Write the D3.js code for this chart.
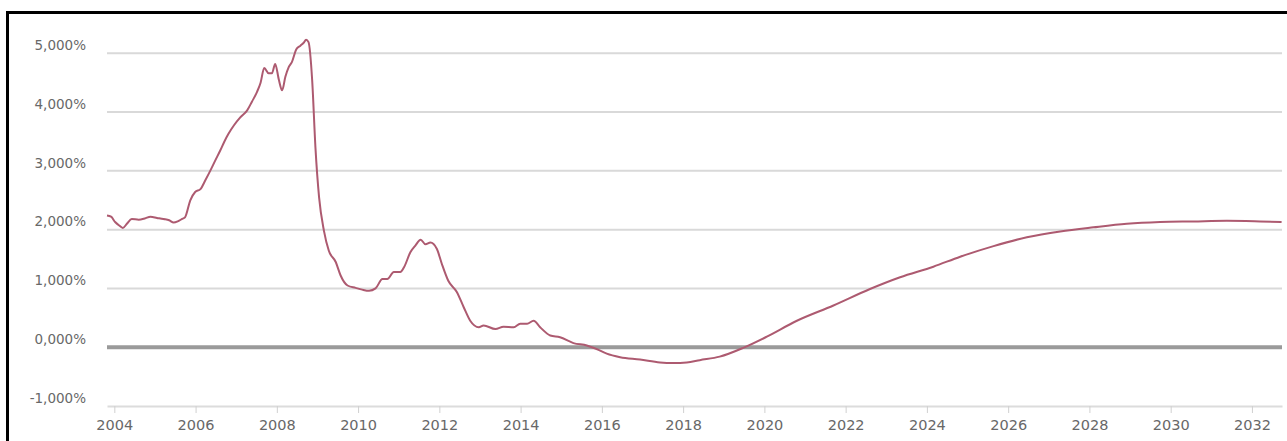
<!DOCTYPE html>
<html>
<head>
  <meta charset="utf-8">
  <title>Rate chart</title>
  <style type="text/css">
    body {
      margin: 0;
      background-color: #fff;
    }
    svg {
      display: block;
    }
    .axis text {
      font-family: "DejaVu Sans", sans-serif;
      font-size: 13.5px;
      fill: #686868;
    }
    .axis.x text {
      font-size: 14.5px;
    }
  </style>
  <script src="https://d3js.org/d3.v7.min.js"></script>
</head>
<body>
<script>
// values (decimal years, rate in %)
var years = [
  2003.82, 2003.92, 2004.02, 2004.12, 2004.21, 2004.31, 2004.43, 2004.6, 2004.75, 2004.89,
  2005.05, 2005.21, 2005.35, 2005.46, 2005.56, 2005.66, 2005.74, 2005.87, 2005.99, 2006.12,
  2006.24, 2006.36, 2006.48, 2006.61, 2006.71, 2006.81, 2006.95, 2007.1, 2007.27, 2007.39,
  2007.51, 2007.6, 2007.69, 2007.8, 2007.88, 2007.96, 2008.05, 2008.13, 2008.21, 2008.29,
  2008.37, 2008.48, 2008.58, 2008.66, 2008.72, 2008.78, 2008.87, 2008.95, 2009.04, 2009.16,
  2009.28, 2009.45, 2009.57, 2009.74, 2009.94, 2010.1, 2010.27, 2010.43, 2010.6, 2010.72,
  2010.88, 2011.04, 2011.13, 2011.29, 2011.41, 2011.54, 2011.66, 2011.78, 2011.94, 2012.06,
  2012.22, 2012.43, 2012.6, 2012.76, 2012.97, 2013.09, 2013.38, 2013.58, 2013.83, 2013.99,
  2014.16, 2014.32, 2014.48, 2014.73, 2014.97, 2015.3, 2015.63, 2015.87, 2016.12, 2016.45,
  2016.94, 2017.43, 2017.76, 2018.09, 2018.41, 2018.9, 2019.48, 2020.06, 2020.8, 2021.7,
  2022.6, 2023.34, 2024.16, 2024.82, 2025.64, 2026.46, 2027.28, 2028.1, 2028.92, 2029.74,
  2030.56, 2031.38, 2032.2, 2032.73
];
var rate = [
  2.24, 2.22, 2.13, 2.07, 2.03, 2.10, 2.18, 2.17, 2.19, 2.22,
  2.20, 2.18, 2.16, 2.12, 2.14, 2.18, 2.21, 2.50, 2.64, 2.69,
  2.84, 3.00, 3.17, 3.35, 3.50, 3.63, 3.78, 3.91, 4.03, 4.18,
  4.34, 4.50, 4.75, 4.66, 4.66, 4.82, 4.55, 4.37, 4.60, 4.76,
  4.85, 5.07, 5.13, 5.18, 5.23, 5.19, 4.54, 3.40, 2.55, 1.98,
  1.64, 1.45, 1.22, 1.05, 1.01, 0.98, 0.96, 1.00, 1.16, 1.16,
  1.28, 1.28, 1.36, 1.62, 1.73, 1.83, 1.75, 1.78, 1.67, 1.42,
  1.13, 0.94, 0.68, 0.45, 0.34, 0.37, 0.31, 0.35, 0.34, 0.40,
  0.40, 0.45, 0.34, 0.20, 0.17, 0.07, 0.03, -0.03, -0.11, -0.17,
  -0.21, -0.26, -0.27, -0.26, -0.22, -0.16, -0.01, 0.18, 0.45, 0.71,
  0.99, 1.19, 1.37, 1.54, 1.72, 1.87, 1.97, 2.04, 2.10, 2.13,
  2.14, 2.15, 2.14, 2.13
];
var yTicks = [-1, 0, 1, 2, 3, 4, 5];
var xTicks = [2004, 2006, 2008, 2010, 2012, 2014, 2016, 2018, 2020, 2022, 2024, 2026, 2028, 2030, 2032];

var data = years.map(function(y, i) { return {year: y, value: rate[i]}; });

var width = 1287, height = 441;

var svg = d3.select("body").append("svg")
  .attr("width", width)
  .attr("height", height);

// comma as decimal mark, plain hyphen for minus
var locale = d3.formatLocale({decimal: ",", thousands: ".", grouping: [3], currency: ["", "€"], minus: "-"});
var fmt = locale.format(".3f");

var xscale = d3.scaleLinear()
  .domain([2003.82, 2032.74])
  .range([107, 1282]);

var yscale = d3.scaleLinear()
  .domain([-1, 5])
  .range([406, 53.3]);

// horizontal grid
svg.append("g")
  .selectAll("line")
  .data(yTicks.filter(function(d) { return d > -1; }))
  .enter().append("line")
    .attr("x1", xscale.range()[0])
    .attr("x2", xscale.range()[1])
    .attr("y1", function(d) { return yscale(d); })
    .attr("y2", function(d) { return yscale(d); })
    .style("stroke", function(d) { return d === 0 ? "#9a9a9a" : "#d9d9d9"; })
    .style("stroke-width", function(d) { return d === 0 ? 4 : 2; });

// y labels
var yaxis = d3.axisLeft(yscale)
  .tickValues(yTicks)
  .tickSize(0)
  .tickPadding(0)
  .tickFormat(function(d) { return fmt(d) + "%"; });

var gy = svg.append("g")
  .attr("class", "axis y")
  .attr("transform", "translate(86,-8)")
  .call(yaxis);
gy.select(".domain").remove();

// x axis
var xaxis = d3.axisBottom(xscale)
  .tickValues(xTicks)
  .tickSize(7)
  .tickSizeOuter(0)
  .tickPadding(7)
  .tickFormat(d3.format("d"));

var gx = svg.append("g")
  .attr("class", "axis x")
  .attr("transform", "translate(0," + yscale(-1) + ")")
  .call(xaxis);
gx.select(".domain").style("stroke", "#dcdcdc").style("stroke-width", 2);
gx.selectAll(".tick line").style("stroke", "#d0d0d0");

// series
var line = d3.line()
  .x(function(d) { return xscale(d.year); })
  .y(function(d) { return yscale(d.value); })
  .curve(d3.curveMonotoneX);

svg.append("path")
  .datum(data)
  .attr("d", line)
  .style("fill", "none")
  .style("stroke", "#ad5a70")
  .style("stroke-width", 2);

// black frame at top and left
svg.append("line")
  .attr("x1", 6).attr("x2", width)
  .attr("y1", 12.5).attr("y2", 12.5)
  .style("stroke", "#000").style("stroke-width", 3);
svg.append("line")
  .attr("x1", 7.5).attr("x2", 7.5)
  .attr("y1", 11).attr("y2", height)
  .style("stroke", "#000").style("stroke-width", 3);
</script>
</body>
</html>
